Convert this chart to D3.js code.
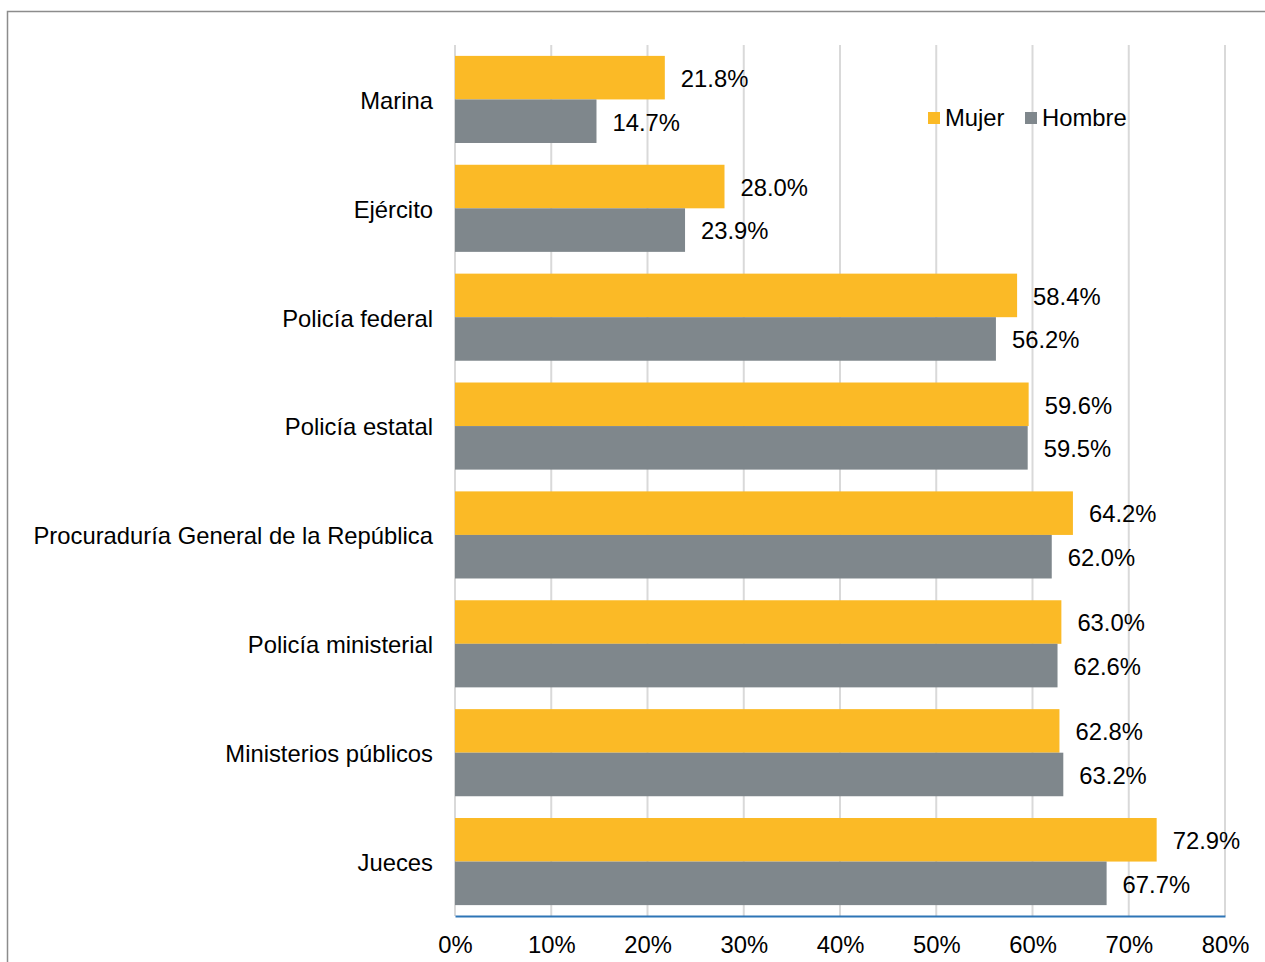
<!DOCTYPE html>
<html><head><meta charset="utf-8">
<script src="https://cdn.jsdelivr.net/npm/d3@7"></script>
<style>body{margin:0;background:#fff}svg{display:block}text{font-family:"Liberation Sans",Arial,sans-serif}</style>
</head><body>
<svg id="c" width="1265" height="962"></svg>
<script>
const categories = ["Marina","Ejército","Policía federal","Policía estatal","Procuraduría General de la República","Policía ministerial","Ministerios públicos","Jueces"];
const series = ["Mujer","Hombre"];
const mujer = [21.8,28.0,58.4,59.6,64.2,63.0,62.8,72.9];
const hombre = [14.7,23.9,56.2,59.5,62.0,62.6,63.2,67.7];
const ticks = [0,10,20,30,40,50,60,70,80];
const colors = {"Mujer":"#FBBA26","Hombre":"#7F878C"};
const FS = 23.8;

const svg = d3.select("#c");
svg.append("path").attr("d","M7.5,962 V11.5 H1265").attr("fill","none").attr("stroke","#8c8c8c").attr("stroke-width",1.5);

const pLeft=455, pRight=1225, pTop=45, pBottom=916;
const x = d3.scaleLinear().domain([0,80]).range([pLeft,pRight]);
const y = d3.scaleBand().domain(categories).range([pTop,pBottom]).paddingInner(0.2).paddingOuter(0.1);
const ys = d3.scaleBand().domain(series).range([0,y.bandwidth()]);

svg.append("g").selectAll("line").data(ticks).join("line")
  .attr("x1",d=>x(d)).attr("x2",d=>x(d)).attr("y1",pTop).attr("y2",pBottom)
  .attr("stroke","#d9d9d9").attr("stroke-width",2);

const data = categories.map((c,i)=>({c, vals:[{s:"Mujer",v:mujer[i]},{s:"Hombre",v:hombre[i]}]}));
const g = svg.append("g").selectAll("g").data(data).join("g").attr("transform",d=>`translate(0,${y(d.c)})`);
g.selectAll("rect").data(d=>d.vals).join("rect")
  .attr("x",x(0)).attr("y",d=>ys(d.s)).attr("width",d=>x(d.v)-x(0)).attr("height",ys.bandwidth())
  .attr("fill",d=>colors[d.s]);
g.selectAll("text").data(d=>d.vals).join("text")
  .attr("x",d=>x(d.v)+16).attr("y",d=>ys(d.s)+ys.bandwidth()/2+1).attr("dy","0.35em")
  .attr("font-size",FS).attr("fill","#000").text(d=>d.v.toFixed(1)+"%");

svg.append("g").selectAll("text").data(categories).join("text")
  .attr("x",433).attr("y",d=>y(d)+y.bandwidth()/2+1).attr("dy","0.35em").attr("text-anchor","end")
  .attr("font-size",FS).attr("fill","#000").text(d=>d);

const ax = svg.append("g").attr("transform",`translate(0,${pBottom})`)
  .call(d3.axisBottom(x).tickValues(ticks).tickFormat(d=>d+"%").tickSize(0).tickPadding(20));
ax.select(".domain").attr("stroke","#2E75B6").attr("stroke-width",2);
ax.selectAll("text").attr("font-size",FS).attr("fill","#000").attr("font-family","Liberation Sans, Arial, sans-serif");

const lg = svg.append("g");
const lx=[928,1025];
series.forEach((s,i)=>{
  lg.append("rect").attr("x",lx[i]).attr("y",112).attr("width",12).attr("height",12).attr("fill",colors[s]);
  lg.append("text").attr("x",lx[i]+17).attr("y",118).attr("dy","0.35em").attr("font-size",FS).attr("fill","#000").text(s);
});
</script>
</body></html>
